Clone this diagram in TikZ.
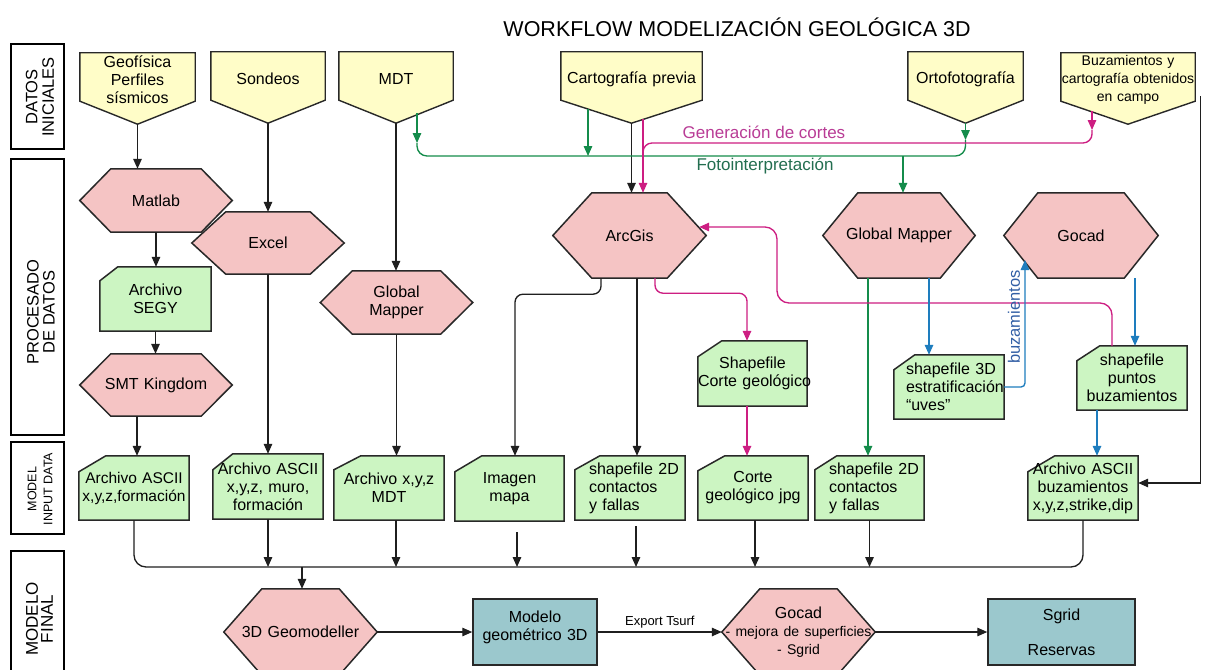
\documentclass[tikz,border=0pt]{standalone}
\usepackage{fontspec}
\setmainfont{Liberation Sans}
\usetikzlibrary{arrows.meta,backgrounds,calc}
\hyphenpenalty=10000
\exhyphenpenalty=10000
\definecolor{yelf}{RGB}{255,253,200}
\definecolor{pinkf}{RGB}{245,196,196}
\definecolor{grnf}{RGB}{204,245,194}
\definecolor{tealf}{RGB}{155,200,205}
\definecolor{gline}{RGB}{20,140,75}
\definecolor{mline}{RGB}{205,30,130}
\definecolor{bline}{RGB}{30,125,190}
\definecolor{gtext}{RGB}{35,110,80}
\definecolor{mtext}{RGB}{185,60,150}
\definecolor{btext}{RGB}{50,95,165}
\definecolor{outl}{RGB}{40,40,40}
\newcommand\hexbg[2]{\path[hexs] (#1.west) -- ([xshift=#2]#1.north west) -- ([xshift=-#2]#1.north east) -- (#1.east) -- ([xshift=-#2]#1.south east) -- ([xshift=#2]#1.south west) -- cycle;}
\newcommand\cardbg[3]{\path[cards] (#1.south west) -- ([yshift=-#3]#1.north west) -- ([xshift=#2]#1.north west) -- (#1.north east) -- (#1.south east) -- cycle;}
\newcommand\yelbg[1]{\path[yels] (#1.north west) -- (#1.north east) -- ([yshift=6]#1.south east) -- (#1-tip) -- ([yshift=6]#1.south west) -- cycle;}
\tikzset{
  txt/.style={font=\fontsize{16}{18}\selectfont, inner sep=0pt, align=center},
  shp/.style 2 args={txt, text width=#1pt, minimum height=#2pt},
  shpl/.style n args={3}{txt, align=left, text width=#1pt, minimum height=#2pt, execute at begin node={\leftskip=#3pt}},
  tealn/.style 2 args={txt, fill=tealf, draw=outl, line width=1.5pt, text width=#1pt, minimum height=#2pt},
  hexs/.style={fill=pinkf, draw=outl, line width=1.5pt, line join=miter},
  cards/.style={fill=grnf, draw=outl, line width=1.5pt},
  yels/.style={fill=yelf, draw=outl, line width=1.4pt},
  lab/.style={draw=black, line width=1.3pt, minimum width=53pt, inner sep=0pt},
  labt/.style={rotate=90, align=center, inner sep=0pt},
  conn/.style={line width=1.35pt, draw=black!88},
  arr/.style={conn, -{Triangle[length=10pt,width=8.5pt]}},
  gconn/.style={conn, draw=gline},
  garr/.style={arr, draw=gline},
  mconn/.style={conn, draw=mline},
  marr/.style={arr, draw=mline},
  barr/.style={arr, draw=bline},
  clab/.style={font=\fontsize{17}{19}\selectfont, inner sep=0pt}
}
\begin{document}
\begin{tikzpicture}[x=1pt,y=-1pt]
\useasboundingbox (0,0) rectangle (1206,669);
\node[font=\fontsize{21.5}{24}\selectfont, inner sep=0pt] (title) at (737,27) {WORKFLOW MODELIZACIÓN GEOLÓGICA 3D};

% row labels
\node[lab, minimum height=105pt] (l1) at (37.5,96.5) {};
\node[labt, font=\fontsize{16.5}{16.5}\selectfont] (l1t) at (40,97) {DATOS\\INICIALES};
\node[lab, minimum height=276pt] (l2) at (37.5,297) {};
\node[labt, font=\fontsize{16.5}{16}\selectfont] (l2t) at (41,312) {PROCESADO\\DE DATOS};
\node[lab, minimum height=92pt] (l3) at (37.5,488) {};
\node[labt, font=\fontsize{12.5}{16}\selectfont] (l3t) at (40,489) {MODEL\\INPUT DATA};
\node[lab, minimum height=134pt] (l4) at (37.5,618) {};
\node[labt, font=\fontsize{17}{15}\selectfont] (l4t) at (39.5,619) {MODELO\\FINAL};

% initial data
\node[shp={115}{54}] (geo) at (137.5,80) {Geofísica\\Perfiles\\sísmicos};
\node[shp={114}{54}] (son) at (268,79) {Sondeos};
\node[shp={114}{54}] (mdt) at (396,79) {MDT};
\node[shp={141}{54}] (carto) at (631.5,79) {Cartografía previa};
\node[shp={115}{54}] (orto) at (965.5,79) {Ortofotografía};
\node[shp={134}{54}, font=\fontsize{14}{18}\selectfont] (buz) at (1128,80) {Buzamientos y\\cartografía obtenidos\\en campo};
\foreach \n in {geo,son,mdt,carto,orto,buz}{\coordinate (\n-tip) at ([yshift=-17]\n.south);}

% processing
\node[shp={152}{63}] (matlab) at (156,200.5) {Matlab};
\node[shp={152}{62}] (excel) at (268,243) {Excel};
\node[shp={152}{63}] (gm1) at (396.5,302.5) {Global\\Mapper};
\node[shp={153}{85}] (arcgis) at (629.5,235.5) {ArcGis};
\node[shp={152}{85}] (gm2) at (899,235.5) {Global Mapper};
\node[shp={154}{85}] (gocad) at (1081,235.5) {Gocad};
\node[shp={152}{62}] (smt) at (156,385) {SMT Kingdom};
\node[shp={111}{64}] (segy) at (155.5,299) {Archivo\\SEGY};
\node[shp={109}{65}] (shpcorte) at (752.5,373.5) {Shapefile\\\mbox{Corte geológico}};
\node[shpl={110}{64}{12}] (shp3d) at (949,387) {shapefile 3D\\estratificación\\“uves”};
\node[shp={110}{64}] (shppuntos) at (1132,378) {shapefile\\puntos\\buzamientos};

% model input data
\node[shp={110}{64}, font=\fontsize{15.5}{18}\selectfont] (in1) at (134,488) {Archivo ASCII\\x,y,z,formación};
\node[shp={110}{65}] (in2) at (268,486.5) {Archivo ASCII\\x,y,z, muro,\\formación};
\node[shp={110}{64}] (in3) at (389,488) {Archivo x,y,z\\MDT};
\node[shp={109}{65}] (in4) at (509.5,488.5) {Imagen\\mapa};
\node[shpl={110}{64}{14}] (in5) at (630,488) {shapefile 2D\\contactos\\y fallas};
\node[shp={110}{64}] (in6) at (753,488) {Corte\\geológico jpg};
\node[shpl={109}{64}{14}] (in7) at (869.5,488) {shapefile 2D\\contactos\\y fallas};
\node[shp={110}{64}] (in8) at (1083,488) {Archivo ASCII\\buzamientos\\x,y,z,strike,dip};

% final model
\node[shp={153}{86}] (geomod) at (300.5,632) {3D Geomodeller};
\node[tealn={124}{66}] (modelo) at (535,632) {Modelo\\geométrico 3D\\[-6pt]\mbox{}};
\node[shp={153}{86}] (gocad2) at (798.5,632) {Gocad\\{\fontsize{14}{15}\selectfont - mejora de superficies}\\{\fontsize{14}{15}\selectfont - Sgrid}};
\node[tealn={147}{66}] (sgrid) at (1061.5,632) {Sgrid\\[17pt]Reservas};

% black connectors
\draw[arr] (geo-tip) -- (geo-tip |- matlab.north);
\draw[arr] (son-tip) -- (son-tip |- excel.north);
\draw[arr] (mdt-tip) -- (mdt-tip |- gm1.north);
\draw[arr] (carto-tip) -- (carto-tip |- arcgis.north);
\draw[arr] (matlab.south) -- (matlab.south |- segy.north);
\draw[arr] (segy.south) -- (segy.south |- smt.north);
\draw[arr] ([xshift=-19]smt.south) -- ($(smt.south |- in1.north)+(-19,0)$);
\draw[arr] (excel.south) -- (excel.south |- in2.north);
\draw[arr] (gm1.south) -- (gm1.south |- in3.north);
\draw[arr, rounded corners=8] ([xshift=-28.5]arcgis.south) -- ++(0,16) -| ([xshift=5.5]in4.north);
\draw[arr] ([xshift=7.5]arcgis.south) -- ($(arcgis.south |- in5.north)+(7.5,0)$);
\draw[arr] ([xshift=5,yshift=11]buz.south east) |- ([yshift=5]in8.east);

% merge
\coordinate (mrg) at (302,567);
\draw[conn, rounded corners=12] (in1.south) |- (mrg) -| (in8.south);
\draw[arr] (in2.south) -- (in2.south |- mrg);
\draw[arr] ([xshift=7]in3.south) -- ($(in3.south |- mrg)+(7,0)$);
\draw[arr] ([xshift=7.5,yshift=-11]in4.south) -- ($(in4.south |- mrg)+(7.5,0)$);
\draw[arr] ([xshift=6,yshift=-6]in5.south) -- ($(in5.south |- mrg)+(6,0)$);
\draw[arr] ([xshift=2]in6.south) -- ($(in6.south |- mrg)+(2,0)$);
\draw[arr] (in7.south) -- (in7.south |- mrg);
\draw[arr] (mrg) -- (mrg |- geomod.north);
\draw[arr] (geomod.east) -- (modelo.west);
\draw[arr] (modelo.east) -- node[above=3pt, font=\fontsize{13}{14}\selectfont, inner sep=0pt] (exl) {Export Tsurf} (gocad2.west);
\draw[arr] (gocad2.east) -- (sgrid.west);

% green (fotointerpretacion)
\coordinate (gA) at (417,113);
\coordinate (gAh) at (417,143);
\coordinate (gL) at (417,156);
\coordinate (gR) at (965.5,156);
\coordinate (gBh) at (965.5,140);
\coordinate (gC) at (588,109);
\draw[garr] (gA) -- (gAh);
\draw[garr] (orto-tip) -- (gBh);
\draw[gconn, rounded corners=10] (gAh) -- (gL) -- (gR) -- (gBh);
\draw[garr] (gC) -- (gC |- gL);
\draw[garr] ($(gm2.north |- gL)+(4,0)$) -- ([xshift=4]gm2.north);
\draw[garr] ([xshift=-31]gm2.south) -- ($(gm2.south |- in7.north)+(-31,0)$);
\node[clab, text=gtext] (foto) at (765,166) {Fotointerpretación};

% magenta (generacion de cortes)
\coordinate (mC) at (643,119);
\coordinate (mB) at (1092,111);
\coordinate (mBh) at (1092,130);
\coordinate (mR) at (1092,143);
\coordinate (mL) at (643,143);
\coordinate (mLd) at (643,165);
\draw[marr] (mC) -- (mC |- arcgis.north);
\draw[marr] (mB) -- (mBh);
\draw[mconn, rounded corners=9] (mBh) -- (mR) -- (mL) -- (mLd);
\node[clab, text=mtext] (gen) at (764,132) {Generación de cortes};
\draw[marr, rounded corners=8] ([xshift=25.5]arcgis.south) -- ++(0,15) -| ([xshift=-5.5]shpcorte.north);
\draw[marr] ([xshift=-5.5]shpcorte.south) -- ($(shpcorte.south |- in6.north)+(-5.5,0)$);
\coordinate (mP) at (777,303);
\draw[marr, rounded corners=12] ([xshift=-20]shppuntos.north) |- (mP) |- ([xshift=-7,yshift=8.5]arcgis.east);

% blue
\draw[barr] ([xshift=30]gm2.south) -- ($(gm2.south |- shp3d.north)+(30,0)$);
\draw[barr, rounded corners=4] (shp3d.east) -| ([xshift=-56,yshift=-24.5]gocad.center);
\node[clab, font=\fontsize{16.5}{18}\selectfont, rotate=90, text=btext] (buzl) at (1014,317) {buzamientos};
\draw[barr] ([xshift=54]gocad.south) -- ($(gocad.south |- shppuntos.north)+(54,0)$);
\draw[barr] ([xshift=-35]shppuntos.south) -- ($(shppuntos.south |- in8.north)+(-35,0)$);

\begin{scope}[on background layer]
\fill[white] (0,0) rectangle (1206,669);
\yelbg{geo}\yelbg{son}\yelbg{mdt}\yelbg{carto}\yelbg{orto}\yelbg{buz}
\hexbg{matlab}{31}\hexbg{excel}{34}\hexbg{gm1}{32}\hexbg{arcgis}{39}
\hexbg{gm2}{35}\hexbg{gocad}{34}\hexbg{smt}{31}\hexbg{geomod}{38}\hexbg{gocad2}{38}
\cardbg{segy}{18}{14}\cardbg{shpcorte}{24}{16}\cardbg{shp3d}{21}{15}\cardbg{shppuntos}{23}{15}
\cardbg{in1}{27}{16}\cardbg{in2}{20}{16}\cardbg{in3}{27}{14}\cardbg{in4}{27}{16}
\cardbg{in5}{25}{14}\cardbg{in6}{27}{15}\cardbg{in7}{22}{14}\cardbg{in8}{27}{16}
\end{scope}
\end{tikzpicture}
\end{document}
